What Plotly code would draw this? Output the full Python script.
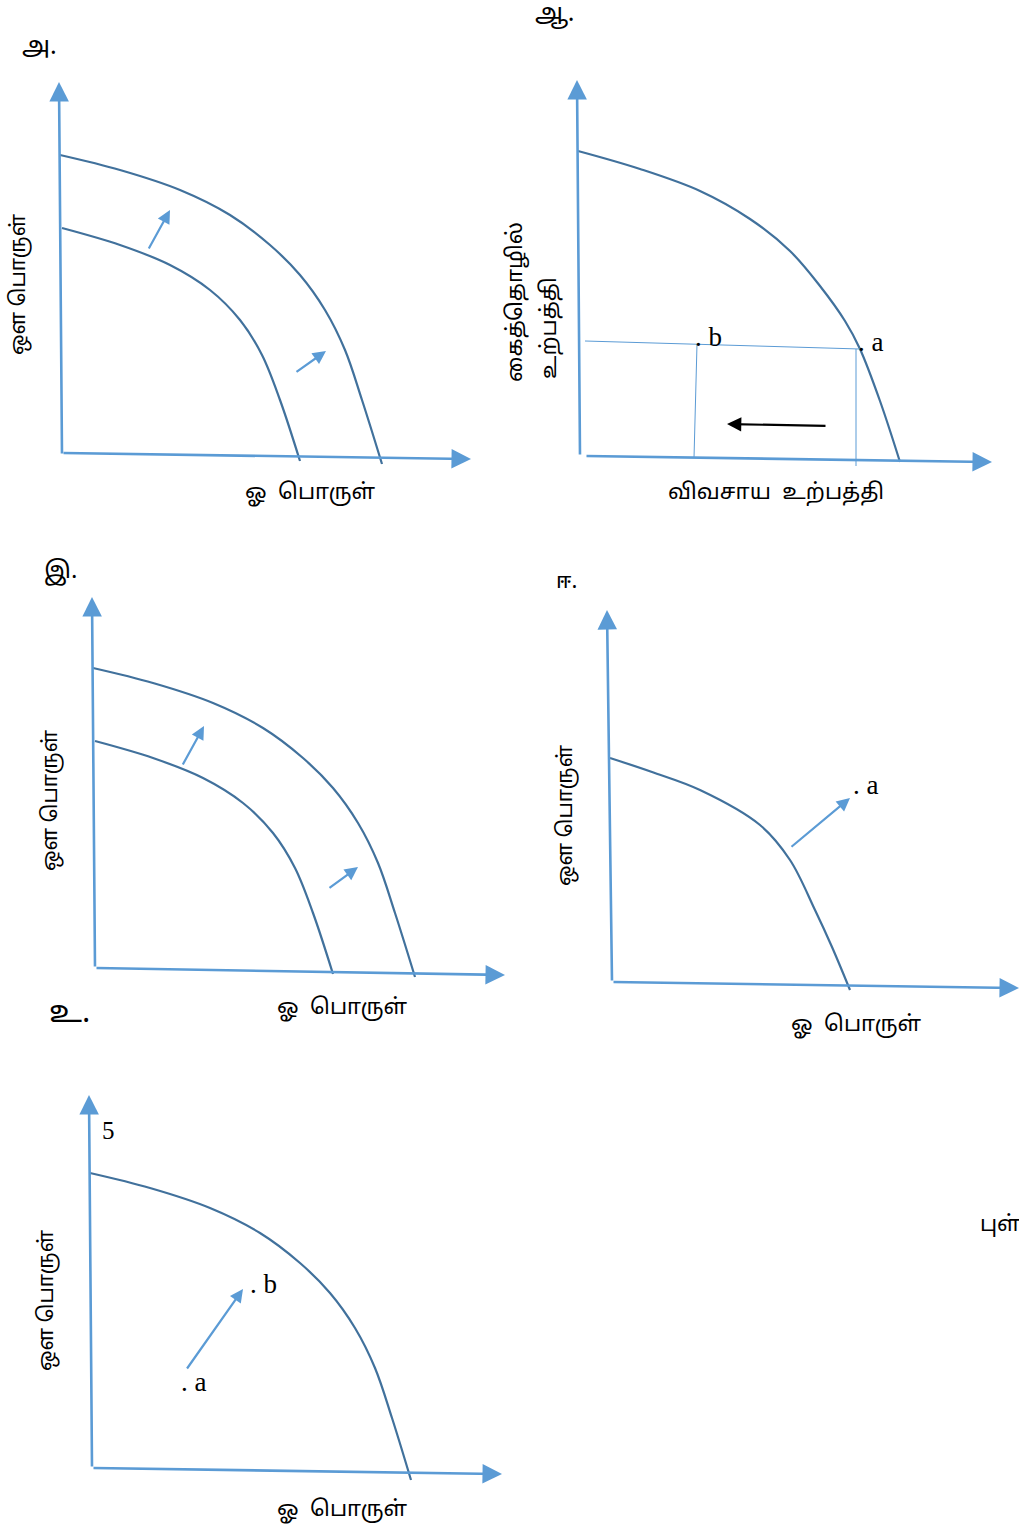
import plotly.graph_objects as go

PAGE_W, PAGE_H = 1019, 1529
AXIS_BLUE = "#5B9BD5"
CURVE_BLUE = "#41719C"
TAMIL = "Noto Sans Tamil, Latha, Lohit Tamil, Noto Sans, sans-serif"
SERIF = "Liberation Serif, Times New Roman, serif"

# ---------------- data (quantities measured from each panel's origin) ----------------
# Panel A / C : two production possibility curves (outer after growth)
ppf_outer_x = [-2, 58, 118, 168, 208, 238, 263, 283, 300, 320]
ppf_outer_y = [300, 285, 265, 240, 210, 180, 145, 105, 55, -9]
ppf_inner_x = [0, 58, 108, 148, 178, 200, 218, 238]
ppf_inner_y = [227, 210, 190, 165, 135, 100, 55, -6]

# Panel B : single curve, points a and b
ppf_b_x = [-2, 60, 120, 170, 210, 240, 265, 280, 300, 320]
ppf_b_y = [305, 287, 265, 237, 205, 170, 135, 107, 55, -6]
point_a_b = (280, 107)
point_b_b = (117, 112)

# Panel D : single curve, point a outside
ppf_d_x = [-2, 40, 88, 148, 178, 203, 220, 238]
ppf_d_y = [224, 210, 192, 157, 122, 72, 35, -8]
point_a_d = (243, 190)

# Panel E : single curve, points a (inside) and b
ppf_e_x = [-2, 58, 118, 168, 208, 238, 263, 283, 300, 319]
ppf_e_y = [295, 280, 260, 235, 205, 175, 140, 100, 50, -12]
point_a_e = (91, 79)
point_b_e = (160, 177)
tick_label_e = "5"

# arrows (tail, head) in panel units
arrows_a = [((86, 205), (108, 245)), ((233, 82), (264, 104))]
arrows_c = [((87, 202), (109, 242)), ((233, 79), (263, 101))]
arrows_d = [((178, 134), (238, 184))]
arrows_e = [((94, 98), (151, 179))]
arrow_b_black = ((247, 30), (147, 32))

# axis end points (y tip, x tip, x start) per panel
axes_ends = {
    "A": {"y": (-3, 373), "x0": (0, 2), "x": (409, -4)},
    "B": {"y": (-3, 376), "x0": (5, 0), "x": (412, -6)},
    "C": {"y": (-3, 371), "x0": (0, 0), "x": (410, -7)},
    "D": {"y": (-5, 372), "x0": (0, 0), "x": (407, -6)},
    "E": {"y": (-3, 373), "x0": (0, 0), "x": (410, -6)},
}

# panel origins on the page (layout)
origins = {"A": (62, 455), "B": (580, 456), "C": (95, 968), "D": (612, 982), "E": (92, 1468)}

fig = go.Figure()
axis_ids = {}
for i, key in enumerate(["A", "B", "C", "D", "E"]):
    n = "" if i == 0 else str(i + 1)
    ox, oy = origins[key]
    left = max(ox - 45, 0)
    right = min(ox + 440, PAGE_W)
    top = oy - 395
    bottom = oy + 30
    xa = dict(domain=[left / PAGE_W, right / PAGE_W], range=[left - ox, right - ox],
              visible=False, fixedrange=True)
    ya = dict(domain=[1 - bottom / PAGE_H, 1 - top / PAGE_H], range=[oy - bottom, oy - top],
              visible=False, fixedrange=True)
    if i > 0:
        xa["anchor"] = "y" + n
        ya["anchor"] = "x" + n
    fig.update_layout(**{"xaxis" + n: xa, "yaxis" + n: ya})
    axis_ids[key] = ("x" + n, "y" + n)


def curve(key, xs, ys, color=CURVE_BLUE, width=2.2, shape="spline"):
    xr, yr = axis_ids[key]
    fig.add_trace(go.Scatter(x=xs, y=ys, mode="lines", xaxis=xr, yaxis=yr,
                             line=dict(color=color, width=width, shape=shape, smoothing=1.0),
                             hoverinfo="skip", showlegend=False))


def arrow(key, tail, head, color=AXIS_BLUE, width=2.2, size=1.4):
    xr, yr = axis_ids[key]
    fig.add_annotation(x=head[0], y=head[1], ax=tail[0], ay=tail[1], xref=xr, yref=yr,
                       axref=xr, ayref=yr, showarrow=True, arrowhead=2, arrowsize=size,
                       arrowwidth=width, arrowcolor=color, text="", standoff=0)


def point_label(key, pt, letter):
    xr, yr = axis_ids[key]
    fig.add_annotation(x=pt[0] - 4, y=pt[1] + 7, xref=xr, yref=yr, text=". " + letter,
                       showarrow=False, xanchor="left", yanchor="middle",
                       font=dict(family=SERIF, size=27, color="black"))


# axes (arrows)
for key, e in axes_ends.items():
    arrow(key, (0, 0), e["y"], width=2.6, size=1.5)
    arrow(key, e["x0"], e["x"], width=2.6, size=1.5)

# panel A and C
for key, arrs in (("A", arrows_a), ("C", arrows_c)):
    curve(key, ppf_outer_x, ppf_outer_y)
    curve(key, ppf_inner_x, ppf_inner_y)
    for t, h in arrs:
        arrow(key, t, h, width=2.2, size=1.2)

# panel B
curve("B", ppf_b_x, ppf_b_y)
curve("B", [5, point_a_b[0]], [115, point_a_b[1]], color=AXIS_BLUE, width=1, shape="linear")
curve("B", [point_b_b[0], point_b_b[0] - 3], [point_b_b[1], -2], color=AXIS_BLUE, width=1, shape="linear")
curve("B", [point_a_b[0] - 4, point_a_b[0] - 4], [point_a_b[1], -10], color=AXIS_BLUE, width=1, shape="linear")
point_label("B", point_b_b, "b")
point_label("B", point_a_b, "a")
arrow("B", arrow_b_black[0], arrow_b_black[1], color="black", width=2.2, size=1.3)

# panel D
curve("D", ppf_d_x, ppf_d_y)
for t, h in arrows_d:
    arrow("D", t, h, width=2.2, size=1.2)
point_label("D", point_a_d, "a")

# panel E
curve("E", ppf_e_x, ppf_e_y)
for t, h in arrows_e:
    arrow("E", t, h, width=2.2, size=1.2)
point_label("E", point_a_e, "a")
point_label("E", point_b_e, "b")


# ---------------- text labels (page positions) ----------------
def page_text(px, py, text, angle=0, size=22, family=TAMIL, xanchor="center"):
    fig.add_annotation(x=px / PAGE_W, y=1 - py / PAGE_H, xref="paper", yref="paper",
                       text=text, showarrow=False, textangle=angle, xanchor=xanchor,
                       yanchor="middle", font=dict(family=family, size=size, color="black"))


good_x = "ஓ  பொருள்"
good_y = "ஔ பொருள்"

page_text(39, 48, "அ.", size=25)
page_text(20, 284, good_y, angle=-90, size=21)
page_text(310, 493, good_x)

page_text(555, 14, "ஆ.", size=25)
page_text(517, 302, "கைத்தொழில்", angle=-90)
page_text(550, 328, "உற்பத்தி", angle=-90)
page_text(776, 493, "விவசாய  உற்பத்தி")

page_text(60, 572, "இ.", size=24)
page_text(52, 800, good_y, angle=-90, size=21)
page_text(342, 1008, good_x)

page_text(566, 582, "ஈ.", size=22)
page_text(567, 815, good_y, angle=-90, size=21)
page_text(856, 1025, good_x)

page_text(69, 1014, "உ.", size=31)
page_text(48, 1300, good_y, angle=-90, size=21)
page_text(342, 1510, good_x)
page_text(108, 1130, tick_label_e, family=SERIF, size=25)

page_text(978, 1225, "புள்ளி", xanchor="left")

fig.update_layout(width=PAGE_W, height=PAGE_H, autosize=False,
                  margin=dict(l=0, r=0, t=0, b=0),
                  paper_bgcolor="white", plot_bgcolor="rgba(0,0,0,0)",
                  showlegend=False)

fig.write_html("out.html", config={"displayModeBar": False},
               post_script="document.body.style.margin='0px';")
